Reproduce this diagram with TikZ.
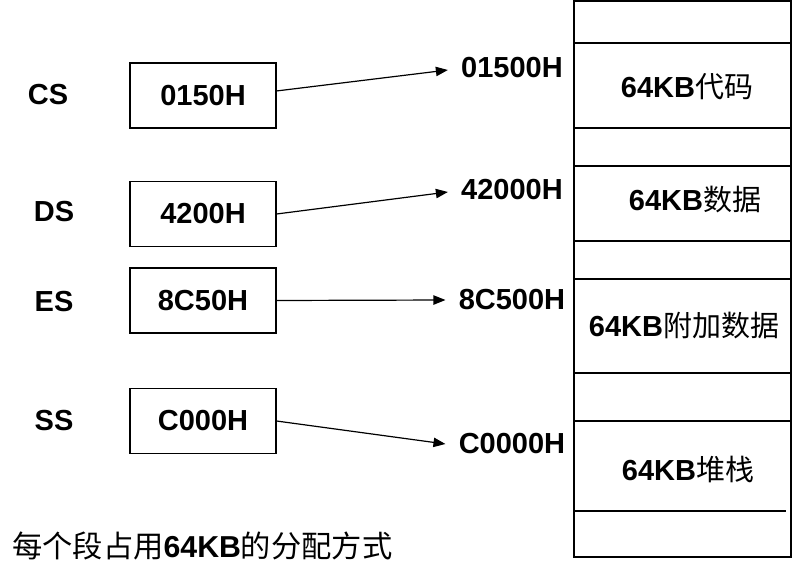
\documentclass[tikz,border=0pt]{standalone}
\usepackage{fontspec}
\setmainfont{Liberation Sans}
\newfontfamily\cjk{Noto Sans CJK SC}
\usetikzlibrary{arrows.meta}
\newcommand\zh[1]{{\cjk\mdseries #1}}
\begin{document}
\begin{tikzpicture}[x=0.75pt,y=-0.75pt,
  lbl/.style={font=\fontsize{21.75}{24}\selectfont\bfseries, inner sep=0pt},
  regbox/.style={lbl, draw, line width=0.8pt, minimum width=109.5pt, minimum height=48.75pt},
  addr/.style={lbl, outer xsep=10pt},
  seg/.style={lbl},
  conn/.style={line width=0.9pt, -{Triangle[length=9pt,width=7pt]}},
  memline/.style={line width=0.8pt}]
\useasboundingbox (0,0) rectangle (799,571);

% segment register names
\node[lbl] (cs) at (48,95) {CS};
\node[lbl] (ds) at (54,212) {DS};
\node[lbl] (es) at (54,302) {ES};
\node[lbl] (ss) at (54,421) {SS};

% register value boxes
\node[regbox] (csbox) at (203,95.5) {0150H};
\node[regbox] (dsbox) at (203,214) {\raisebox{-3pt}{4200H}};
\node[regbox] (esbox) at (203,300.5) {8C50H};
\node[regbox] (ssbox) at (203,421) {C000H};

% physical addresses
\node[addr] (csaddr) at (512,68) {01500H};
\node[addr] (dsaddr) at (512,190) {42000H};
\node[addr] (esaddr) at (512,300) {8C500H};
\node[addr] (ssaddr) at (512,444) {C0000H};

% connectors
\draw[conn] ([yshift=3.4pt]csbox.east) -- ([yshift=-1.5pt]csaddr.west);
\draw[conn] (dsbox.east) -- ([yshift=-1.5pt]dsaddr.west);
\draw[conn] (esbox.east) -- (esaddr.west);
\draw[conn] (ssbox.east) -- (ssaddr.west);

% memory column
\draw[memline] (574,1) rectangle (791,557);
\draw[memline] (574,43) -- (791,43);
\draw[memline] (574,128) -- (791,128);
\draw[memline] (574,166) -- (791,166);
\draw[memline] (574,241) -- (791,241);
\draw[memline] (574,279) -- (791,279);
\draw[memline] (574,373) -- (791,373);
\draw[memline] (574,421) -- (791,421);
\draw[memline] (574,511) -- (786,511);

\node[seg] (code) at (687,87) {64KB\zh{代码}};
\node[seg] (data) at (695,200) {64KB\zh{数据}};
\node[seg] (extra) at (684,326) {64KB\zh{附加数据}};
\node[seg] (stack) at (688,469) {64KB\zh{堆栈}};

% caption
\node[font=\fontsize{22.7}{26}\selectfont, inner sep=0pt, anchor=west] (cap) at (12,546) {\zh{每个段占用}\textbf{64KB}\zh{的分配方式}};
\end{tikzpicture}
\end{document}
